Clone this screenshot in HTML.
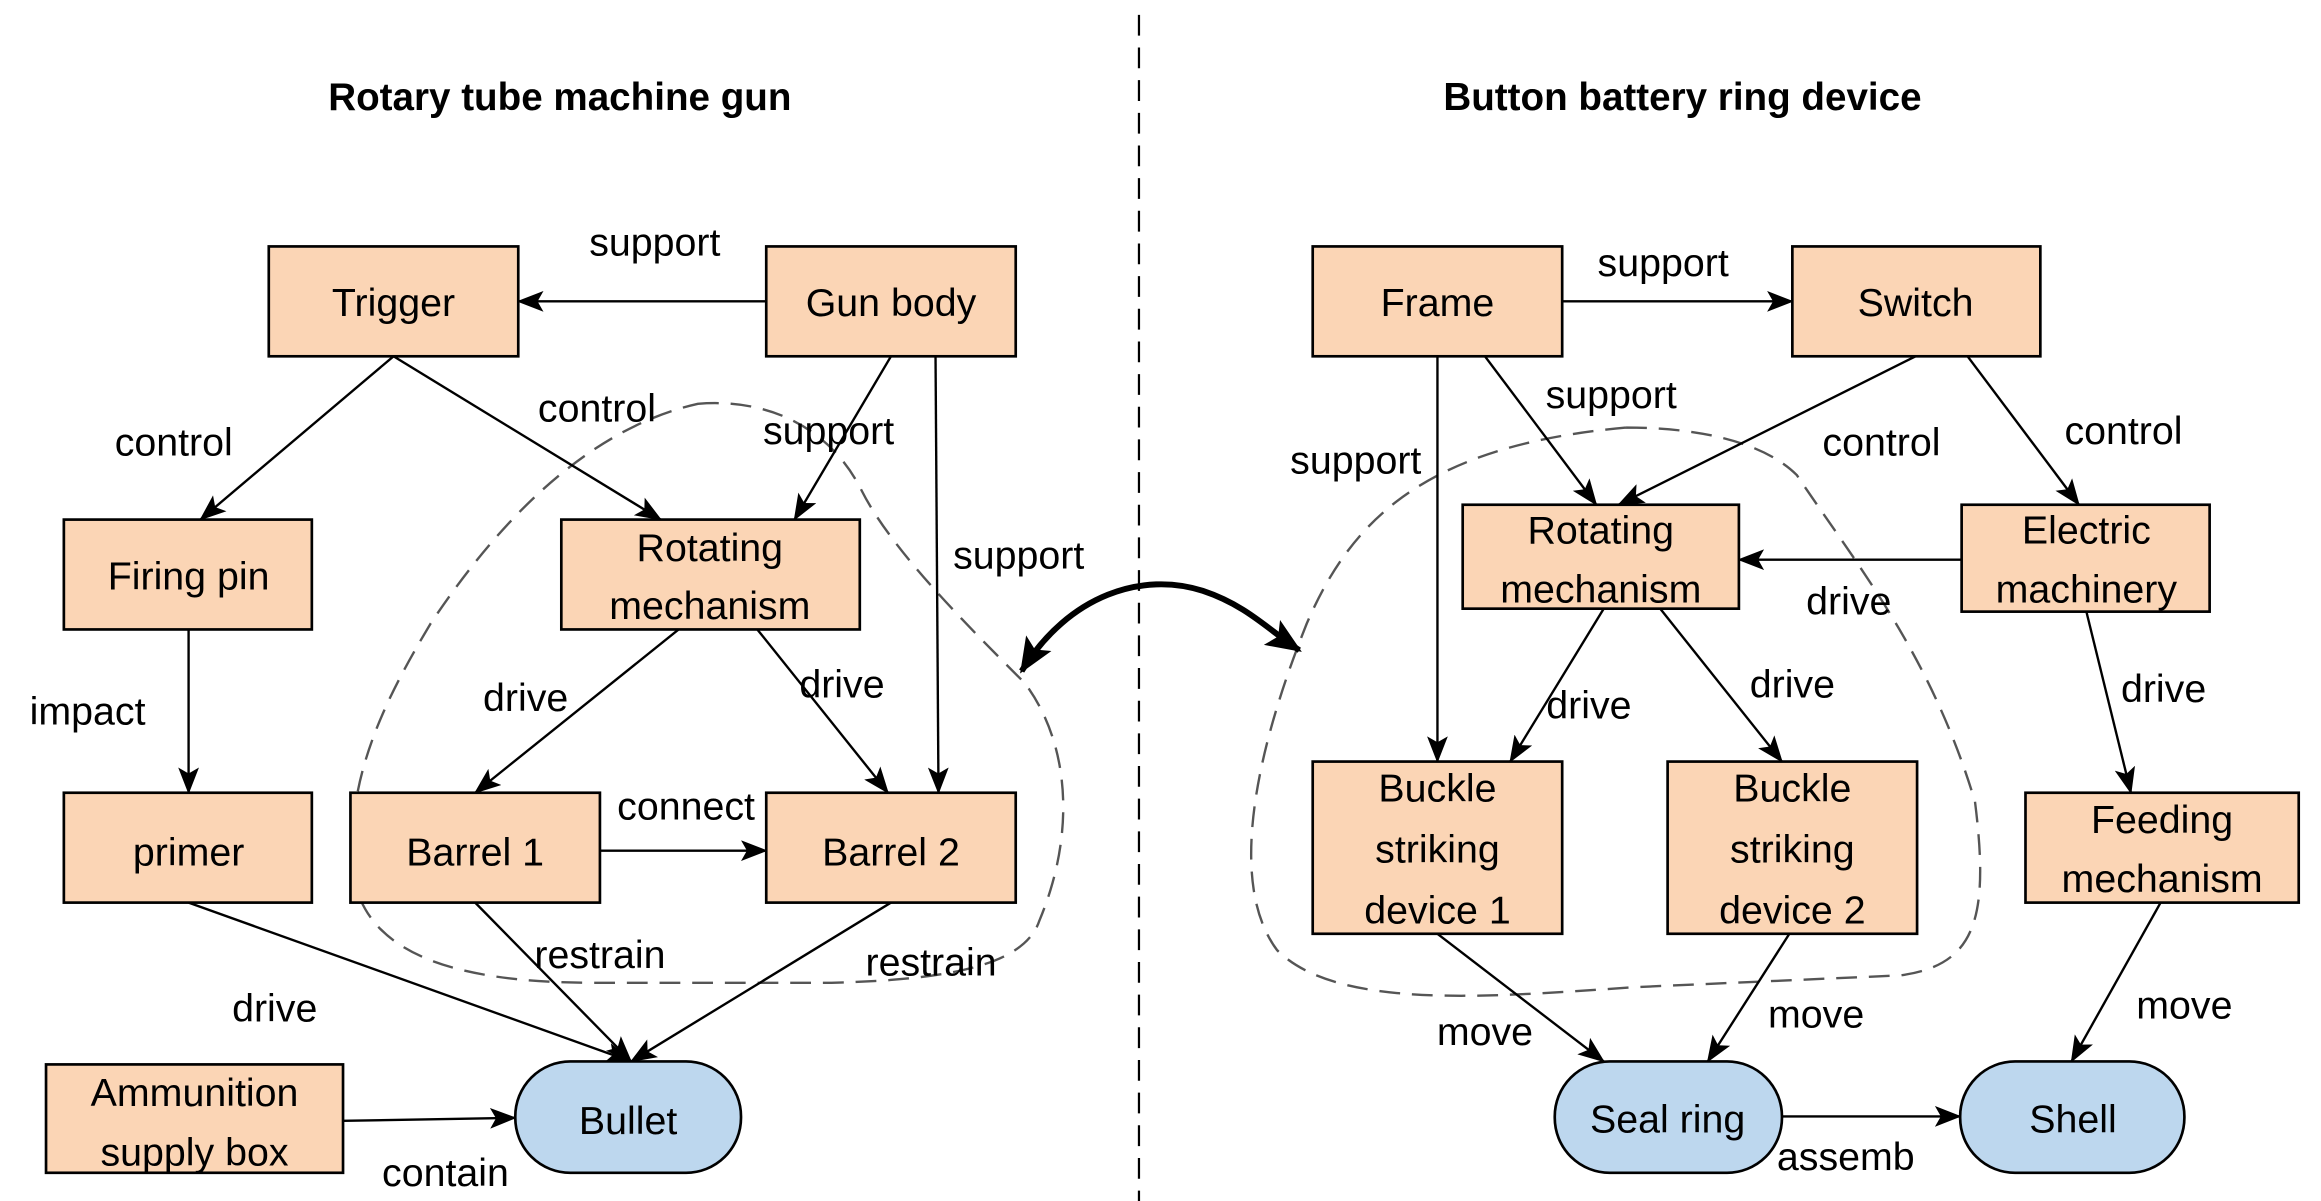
<!DOCTYPE html>
<html><head><meta charset="utf-8"><style>html,body{margin:0;padding:0;background:#fff}svg{display:block}</style></head>
<body>
<svg width="2321" height="1201" viewBox="0 0 1563 809" preserveAspectRatio="none" xmlns="http://www.w3.org/2000/svg" font-family="Liberation Sans, sans-serif">
<defs>
<marker id="a" markerUnits="userSpaceOnUse" markerWidth="18" markerHeight="14" refX="17" refY="7" orient="auto"><path d="M0,0 L18,7 L0,14 L4,7 Z" fill="#000"/></marker>
<marker id="b" markerUnits="userSpaceOnUse" markerWidth="24" markerHeight="20" refX="22" refY="10" orient="auto"><path d="M0,0 L24,10 L0,20 L5,10 Z" fill="#000"/></marker>
<marker id="bs" markerUnits="userSpaceOnUse" markerWidth="24" markerHeight="20" refX="2" refY="10" orient="auto"><path d="M24,0 L0,10 L24,20 L19,10 Z" fill="#000"/></marker>
</defs>
<line x1="767" y1="10" x2="767" y2="809" stroke="#000" stroke-width="1.5" stroke-dasharray="14,8"/>
<g font-weight="bold" font-size="26" text-anchor="middle">
<text x="377" y="74">Rotary tube machine gun</text>
<text x="1133" y="74">Button battery ring device</text>
</g>
<g fill="none" stroke="#555" stroke-width="1.6" stroke-dasharray="14,8">
<path d="M470,272 C520,268 560,290 580,330 C600,370 650,420 690,460 C720,500 725,560 700,620 C690,650 640,660 560,662 L400,662 C300,662 240,640 237,580 C235,520 260,470 290,420 C330,360 390,290 470,272 Z"/>
<path d="M1095,288 C1150,288 1190,300 1210,320 C1250,380 1300,440 1330,540 C1340,620 1330,650 1280,657 L1100,665 C1000,672 900,680 860,640 C830,600 840,520 880,420 C910,350 960,300 1095,288 Z"/>
</g>
<path d="M688,452 C720,400 770,385 810,398 C840,408 855,425 875,438" fill="none" stroke="#000" stroke-width="4" marker-start="url(#bs)" marker-end="url(#b)"/>
<g stroke="#000" stroke-width="1.6" fill="none" marker-end="url(#a)">
<line x1="516" y1="203" x2="349" y2="203"/>
<line x1="265" y1="240" x2="135" y2="350"/>
<line x1="265" y1="240" x2="445" y2="350"/>
<line x1="600" y1="240" x2="535" y2="350"/>
<line x1="630" y1="240" x2="632" y2="534"/>
<line x1="127" y1="424" x2="127" y2="534"/>
<line x1="457" y1="424" x2="320" y2="534"/>
<line x1="510" y1="424" x2="598" y2="534"/>
<line x1="404" y1="573" x2="516" y2="573"/>
<line x1="127" y1="608" x2="425" y2="715"/>
<line x1="320" y1="608" x2="425" y2="715"/>
<line x1="600" y1="608" x2="425" y2="715"/>
<line x1="231" y1="755" x2="347" y2="753"/>
<line x1="1052" y1="203" x2="1207" y2="203"/>
<line x1="968" y1="240" x2="968" y2="513"/>
<line x1="1000" y1="240" x2="1075" y2="340"/>
<line x1="1290" y1="240" x2="1090" y2="340"/>
<line x1="1325" y1="240" x2="1400" y2="340"/>
<line x1="1321" y1="377" x2="1171" y2="377"/>
<line x1="1080" y1="410" x2="1017" y2="513"/>
<line x1="1118" y1="410" x2="1200" y2="513"/>
<line x1="1405" y1="412" x2="1435" y2="534"/>
<line x1="968" y1="629" x2="1080" y2="715"/>
<line x1="1205" y1="629" x2="1150" y2="715"/>
<line x1="1455" y1="608" x2="1395" y2="715"/>
<line x1="1200" y1="752" x2="1320" y2="752"/>
</g>
<g fill="#FBD5B5" stroke="#000" stroke-width="1.8">
<rect x="181" y="166" width="168" height="74"/>
<rect x="516" y="166" width="168" height="74"/>
<rect x="43" y="350" width="167" height="74"/>
<rect x="378" y="350" width="201" height="74"/>
<rect x="43" y="534" width="167" height="74"/>
<rect x="236" y="534" width="168" height="74"/>
<rect x="516" y="534" width="168" height="74"/>
<rect x="31" y="717" width="200" height="73"/>
<rect x="884" y="166" width="168" height="74"/>
<rect x="1207" y="166" width="167" height="74"/>
<rect x="985" y="340" width="186" height="70"/>
<rect x="1321" y="340" width="167" height="72"/>
<rect x="884" y="513" width="168" height="116"/>
<rect x="1123" y="513" width="168" height="116"/>
<rect x="1364" y="534" width="184" height="74"/>
</g>
<g fill="#BDD7EE" stroke="#000" stroke-width="1.8">
<rect x="347" y="715" width="152" height="75" rx="37"/>
<rect x="1047" y="715" width="153" height="75" rx="37"/>
<rect x="1320" y="715" width="151" height="75" rx="37"/>
</g>
<g font-size="26.5" text-anchor="middle" fill="#000">
<text x="265" y="213">Trigger</text>
<text x="600" y="213">Gun body</text>
<text x="127" y="397">Firing pin</text>
<text x="478" y="378">Rotating</text><text x="478" y="417">mechanism</text>
<text x="127" y="583">primer</text>
<text x="320" y="583">Barrel 1</text>
<text x="600" y="583">Barrel 2</text>
<text x="131" y="745">Ammunition</text><text x="131" y="785">supply box</text>
<text x="423" y="764">Bullet</text>
<text x="968" y="213">Frame</text>
<text x="1290" y="213">Switch</text>
<text x="1078" y="366">Rotating</text><text x="1078" y="406">mechanism</text>
<text x="1405" y="366">Electric</text><text x="1405" y="406">machinery</text>
<text x="968" y="540">Buckle</text><text x="968" y="581">striking</text><text x="968" y="622">device 1</text>
<text x="1207" y="540">Buckle</text><text x="1207" y="581">striking</text><text x="1207" y="622">device 2</text>
<text x="1456" y="561">Feeding</text><text x="1456" y="601">mechanism</text>
<text x="1123" y="763">Seal ring</text>
<text x="1396" y="763">Shell</text>
<text x="441" y="172">support</text>
<text x="117" y="307">control</text>
<text x="402" y="284">control</text>
<text x="558" y="299">support</text>
<text x="686" y="383">support</text>
<text x="59" y="488">impact</text>
<text x="354" y="479">drive</text>
<text x="567" y="470">drive</text>
<text x="462" y="552">connect</text>
<text x="185" y="688">drive</text>
<text x="404" y="652">restrain</text>
<text x="627" y="657">restrain</text>
<text x="300" y="799">contain</text>
<text x="1120" y="186">support</text>
<text x="913" y="319">support</text>
<text x="1085" y="275">support</text>
<text x="1267" y="307">control</text>
<text x="1430" y="299">control</text>
<text x="1245" y="414">drive</text>
<text x="1070" y="484">drive</text>
<text x="1207" y="470">drive</text>
<text x="1457" y="473">drive</text>
<text x="1000" y="704">move</text>
<text x="1223" y="692">move</text>
<text x="1471" y="686">move</text>
<text x="1243" y="788">assemb</text>
</g>
</svg>
</body></html>
